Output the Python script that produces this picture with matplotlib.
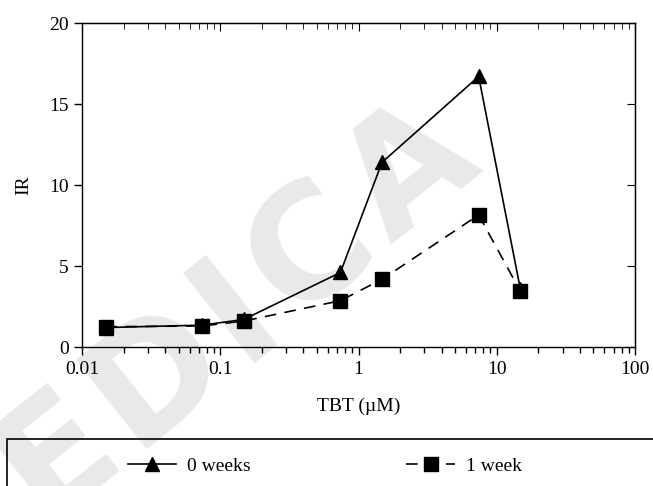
import matplotlib
matplotlib.use("Agg")
import numpy as np
import matplotlib.pyplot as plt
from matplotlib.patches import Rectangle
from matplotlib.ticker import LogLocator, NullFormatter, FixedLocator, FixedFormatter

plt.rcParams['font.family'] = ['Liberation Serif', 'DejaVu Serif']
plt.rcParams['font.size'] = 14

# TBT concentration (uM) and induction ratio
tbt = [0.0148, 0.074, 0.148, 0.74, 1.48, 7.4, 14.8]
ir_0wk = [1.2, 1.35, 1.7, 4.6, 11.4, 16.7, 3.6]
ir_1wk = [1.25, 1.3, 1.6, 2.86, 4.18, 8.15, 3.45]
series_labels = ["0 weeks", "1 week"]
x_ticks = [0.01, 0.1, 1, 10, 100]
x_ticklabels = ["0.01", "0.1", "1", "10", "100"]
y_ticks = [0, 5, 10, 15, 20]

W, H = 653, 486
fig = plt.figure(figsize=(W / 100, H / 100), dpi=100)

# watermark behind everything: letters laid out one by one along a slanted
# baseline so the spacing can be opened up a little
wm_text = "MEDICA"
wm_kw = dict(fontsize=112, fontweight='bold', family='DejaVu Sans',
             color='#e9e9e9', zorder=0)
wm_angle = 38.5
wm_track = 9  # extra px between letters
wm_end = np.array([484.0, H - 170.0])  # end of baseline, px from bottom-left
renderer = fig.canvas.get_renderer()
widths = []
for ch in wm_text:
    t = fig.text(0, 0, ch, **wm_kw)
    widths.append(t.get_window_extent(renderer).width)
    t.remove()
u = np.array([np.cos(np.radians(wm_angle)), np.sin(np.radians(wm_angle))])
total = sum(widths) + wm_track * (len(wm_text) - 1)
pos = wm_end - total * u
for ch, w in zip(wm_text, widths):
    fig.text(pos[0] / W, pos[1] / H, ch, rotation=wm_angle,
             rotation_mode='anchor', ha='left', va='baseline', **wm_kw)
    pos = pos + (w + wm_track) * u

ax = fig.add_axes([82 / W, 1 - 347 / H, (635 - 82) / W, (347 - 23) / H])
ax.set_zorder(2)
ax.patch.set_alpha(0)

l0, = ax.plot(tbt, ir_0wk, color='black', lw=1.2, marker='^', ms=10,
              label=series_labels[0], zorder=3)
l1, = ax.plot(tbt, ir_1wk, color='black', lw=1.2, linestyle=(0, (7, 5)),
              marker='s', ms=9.5, label=series_labels[1], zorder=4)

ax.set_xscale('log')
ax.set_xlim(0.01, 100)
ax.set_ylim(0, 20)
ax.xaxis.set_major_locator(FixedLocator(x_ticks))
ax.xaxis.set_major_formatter(FixedFormatter(x_ticklabels))
ax.xaxis.set_minor_locator(LogLocator(base=10, subs=range(2, 10)))
ax.xaxis.set_minor_formatter(NullFormatter())
ax.set_yticks(y_ticks)

ax.tick_params(which='major', direction='out', length=6, width=1, labelsize=14)
ax.tick_params(which='minor', direction='out', length=4, width=1)
ax.tick_params(axis='x', pad=4)

# inward ticks on the top and right edges
top = ax.secondary_xaxis('top')
top.set_xscale('log')
top.xaxis.set_major_locator(FixedLocator(x_ticks))
top.xaxis.set_minor_locator(LogLocator(base=10, subs=range(2, 10)))
top.tick_params(which='major', direction='in', length=6, labeltop=False)
top.tick_params(which='minor', direction='in', length=4, labeltop=False)
top.xaxis.set_major_formatter(NullFormatter())
top.xaxis.set_minor_formatter(NullFormatter())
right = ax.secondary_yaxis('right')
right.set_yticks(y_ticks)
right.tick_params(direction='in', length=6, labelright=False)

for sp in ax.spines.values():
    sp.set_linewidth(1)

ax.set_xlabel("TBT (µM)", fontsize=14, labelpad=14)
ax.set_ylabel("IR", fontsize=14, labelpad=12)

# boxed legend below the plot
fig.patches.append(Rectangle((7 / W, -0.1), 1.0, 1 - 439 / H + 0.1,
                             transform=fig.transFigure, fill=False,
                             edgecolor='black', lw=1.2, zorder=3))
leg = fig.legend([l0, l1], series_labels, ncol=2, frameon=False, fontsize=14,
                 loc='center left', bbox_to_anchor=(120 / W, 1 - 466 / H),
                 handlelength=2.5, handletextpad=0.55, columnspacing=8.0,
                 borderaxespad=0)
leg.set_zorder(3)

fig.savefig("out.png", dpi=100)
